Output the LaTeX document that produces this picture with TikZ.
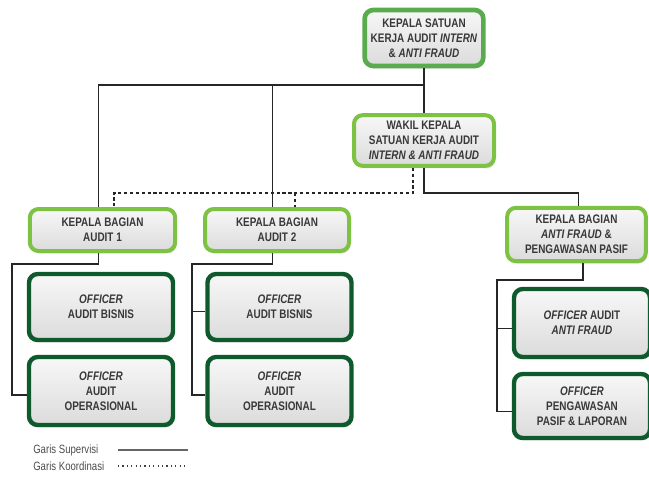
\documentclass[tikz,border=0pt]{standalone}
\usepackage{fontspec}
\setmainfont{Liberation Sans}[FakeStretch=0.8]
\usepackage{xcolor}
\usetikzlibrary{shadows,calc}

\definecolor{hijauTua}{HTML}{0E5A2C}
\definecolor{hijauMuda}{HTML}{7DC242}
\definecolor{hijauSedang}{HTML}{5AAA4E}
\definecolor{teksAbu}{HTML}{383838}

\tikzset{
  kotak/.style={draw, line width=3pt, rounded corners=6.5pt, top color=black!3, bottom color=black!14,
    drop shadow={shadow xshift=1pt, shadow yshift=-1.8pt, opacity=.3},
    align=center, text=teksAbu, inner sep=0pt, font=\bfseries\fontsize{9.3}{11.2}\selectfont},
  pimpinan/.style={kotak, draw=hijauSedang, line width=3.5pt},
  bagian/.style={kotak, draw=hijauMuda},
  petugas/.style={kotak, draw=hijauTua, line width=3.3pt},
  garis/.style={draw=black!85, line width=0.9pt},
  koordinasi/.style={draw=black!85, line width=0.9pt, dash pattern=on 2.4pt off 2pt},
  ket/.style={anchor=west, text=black!70, inner sep=0pt, font=\fontsize{9}{10}\selectfont}
}

\begin{document}
\begin{tikzpicture}[x=0.75pt, y=-0.75pt]
    \useasboundingbox (0,0) rectangle (649,476);

    % Pimpinan
    \node[pimpinan, minimum width=89pt, minimum height=42pt] (kepala) at (424,38)
        {KEPALA SATUAN\\KERJA AUDIT \textit{INTERN}\\\& \textit{ANTI FRAUD}};
    \node[bagian, minimum width=105pt, minimum height=38pt] (wakil) at (424,140.5)
        {WAKIL KEPALA\\SATUAN KERJA AUDIT\\\textit{INTERN \& ANTI FRAUD}};

    % Kepala bagian
    \node[bagian, minimum width=109pt, minimum height=31.5pt] (bag1) at (102.5,230) {KEPALA BAGIAN\\AUDIT 1};
    \node[bagian, minimum width=108pt, minimum height=31.5pt] (bag2) at (277,230) {KEPALA BAGIAN\\AUDIT 2};
    \node[bagian, minimum width=104pt, minimum height=40pt] (bag3) at (576.5,234.5)
        {KEPALA BAGIAN\\\textit{ANTI FRAUD} \&\\PENGAWASAN PASIF};

    % Officer
    \node[petugas, minimum width=108pt, minimum height=49.5pt] (off11) at (101,307) {\textit{OFFICER}\\AUDIT BISNIS};
    \node[petugas, minimum width=108pt, minimum height=51pt] (off12) at (101,391) {\textit{OFFICER}\\AUDIT\\OPERASIONAL};
    \node[petugas, minimum width=108pt, minimum height=49.5pt] (off21) at (279.5,307) {\textit{OFFICER}\\AUDIT BISNIS};
    \node[petugas, minimum width=108pt, minimum height=51pt] (off22) at (279.5,391) {\textit{OFFICER}\\AUDIT\\OPERASIONAL};
    \node[petugas, minimum width=102pt, minimum height=51pt] (off31) at (582,323) {\textit{OFFICER} AUDIT\\\textit{ANTI FRAUD}};
    \node[petugas, minimum width=102pt, minimum height=48pt] (off32) at (582,406) {\textit{OFFICER}\\PENGAWASAN\\PASIF \& LAPORAN};

    % Garis supervisi
    \draw[garis] (kepala) -- (wakil);
    \draw[garis] ([xshift=-3pt]bag1.north) |- (kepala.south |- 0,85);
    \draw[garis] ([xshift=-3.3pt]bag2.north) -- ([xshift=-3.3pt]bag2.north |- 0,85);
    \draw[garis] (wakil.south) -- (wakil.south |- 0,193) -| ([xshift=1.2pt]bag3.north);
    \draw[garis] ([xshift=-3pt]bag1.south) |- (12,264) |- ([yshift=-3pt]off12.west);
    \draw[garis] ([xshift=-3.3pt]bag2.south) |- (192,264) |- ([yshift=-3pt]off22.west);
    \draw[garis] ([yshift=-3.5pt]off21.west -| 192,0) -- ([yshift=-3.5pt]off21.west);
    \draw[garis] ([xshift=4.8pt]bag3.south) |- (497,280) |- ([yshift=-4pt]off32.west);
    \draw[garis] ([yshift=-4pt]off31.west -| 497,0) -- ([yshift=-4pt]off31.west);

    % Garis koordinasi
    \draw[koordinasi] (wakil.south -| 413,0) |- (114,193) -- (bag1.north -| 114,0);
    \draw[koordinasi] (295,193) -- (bag2.north -| 295,0);

    % Keterangan
    \node[ket] (ket1) at (33,450) {Garis Supervisi};
    \node[ket] (ket2) at (33,466) {Garis Koordinasi};
    \draw[draw=black!60, line width=0.8pt] (ket1.east -| 118,0) -- (ket1.east -| 188,0);
    \draw[draw=black!75, line width=0.9pt, dash pattern=on 0.9pt off 2.4pt] (ket2.east -| 118,0) -- (ket2.east -| 188,0);
\end{tikzpicture}
\end{document}
